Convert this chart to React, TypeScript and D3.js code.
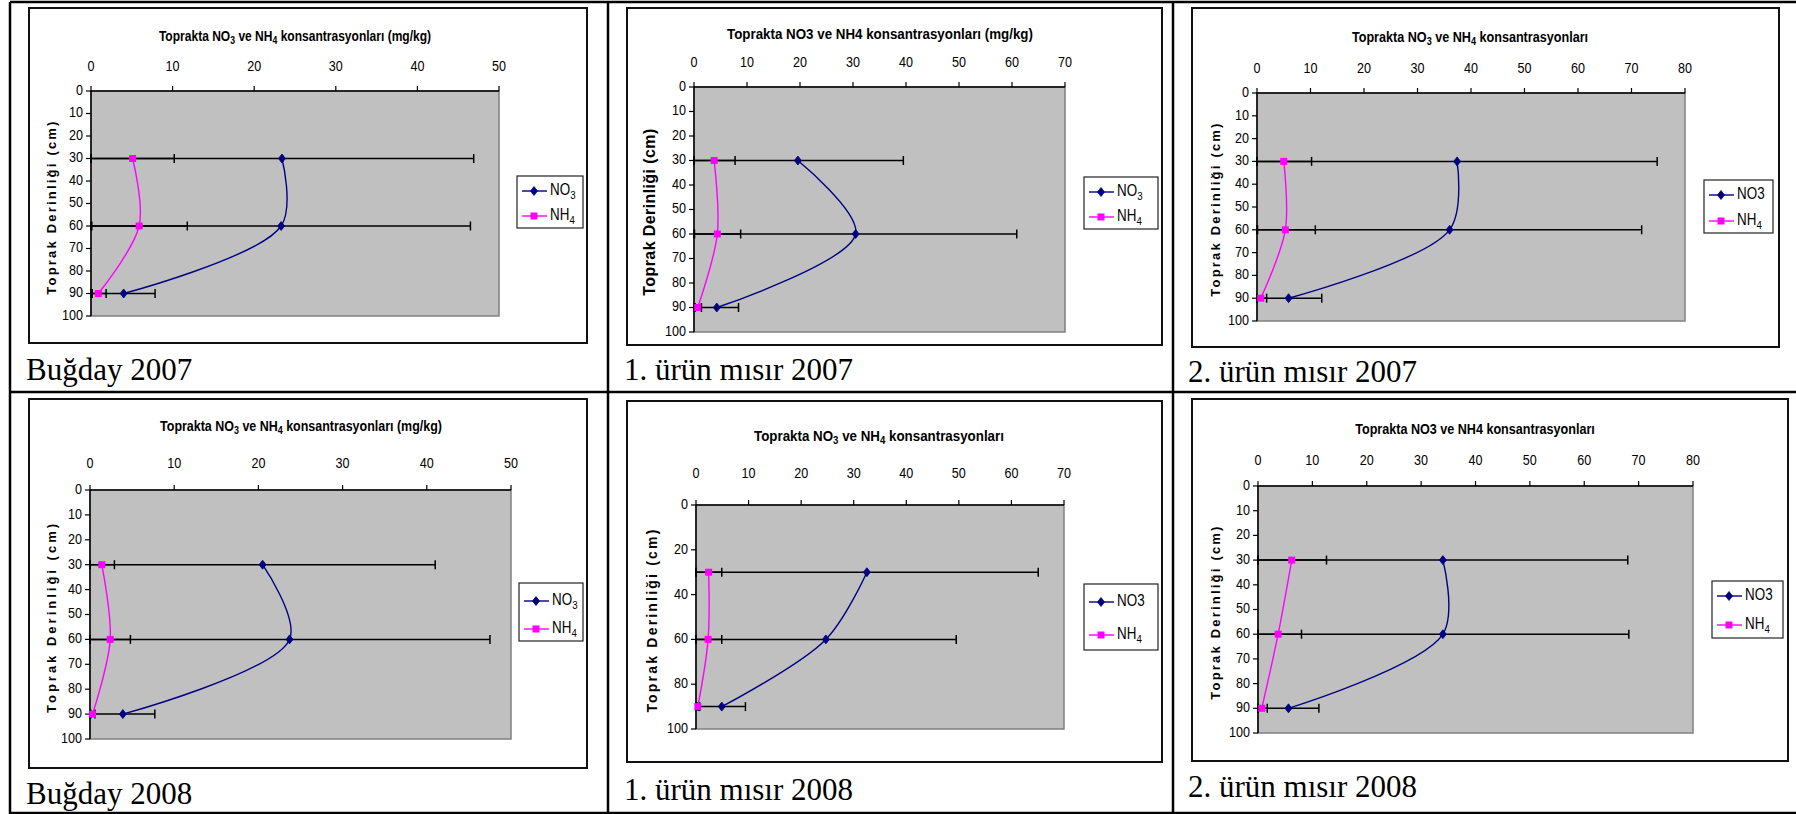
import React from 'react';
import * as d3 from 'd3';

// depth levels (cm) shared by all six profiles
const depths = [30, 60, 90];

// NO3 / NH4 means and error (mg/kg), one pair of arrays per crop-year
const no3Bugday2007 = [23.4, 23.3, 4.0];
const no3ErrBugday2007 = [23.5, 23.2, 3.85];
const nh4Bugday2007 = [5.1, 5.9, 0.9];
const nh4ErrBugday2007 = [5.1, 5.9, 0.95];

const no3Misir1_2007 = [19.6, 30.5, 4.3];
const no3ErrMisir1_2007 = [19.9, 30.4, 4.1];
const nh4Misir1_2007 = [3.8, 4.4, 0.7];
const nh4ErrMisir1_2007 = [3.95, 4.4, 0.7];

const no3Misir2_2007 = [37.4, 36.0, 5.9];
const no3ErrMisir2_2007 = [37.4, 35.9, 6.2];
const nh4Misir2_2007 = [5.0, 5.3, 0.7];
const nh4ErrMisir2_2007 = [5.2, 5.6, 1.1];

const no3Bugday2008 = [20.5, 23.7, 3.9];
const no3ErrBugday2008 = [20.5, 23.8, 3.8];
const nh4Bugday2008 = [1.4, 2.4, 0.3];
const nh4ErrBugday2008 = [1.5, 2.4, 0.3];

const no3Misir1_2008 = [32.5, 24.7, 4.9];
const no3ErrMisir1_2008 = [32.6, 24.8, 4.5];
const nh4Misir1_2008 = [2.4, 2.3, 0.35];
const nh4ErrMisir1_2008 = [2.5, 2.6, 0.35];

const no3Misir2_2008 = [34.0, 34.0, 5.6];
const no3ErrMisir2_2008 = [34.0, 34.2, 5.6];
const nh4Misir2_2008 = [6.2, 3.7, 0.7];
const nh4ErrMisir2_2008 = [6.4, 4.3, 1.0];

// texts ("_3" marks a subscript)
const captions = ['Buğday 2007', '1. ürün mısır 2007', '2. ürün mısır 2007', 'Buğday 2008', '1. ürün mısır 2008', '2. ürün mısır 2008'];
const titles = [
  'Toprakta NO_3 ve NH_4 konsantrasyonları (mg/kg)',
  'Toprakta NO3 ve NH4 konsantrasyonları (mg/kg)',
  'Toprakta NO_3 ve NH_4 konsantrasyonları',
  'Toprakta NO_3 ve NH_4 konsantrasyonları (mg/kg)',
  'Toprakta NO_3 ve NH_4 konsantrasyonları',
  'Toprakta NO3 ve NH4 konsantrasyonları',
];
const no3Legend = ['NO_3', 'NO_3', 'NO3', 'NO_3', 'NO3', 'NO3'];
const nh4Legend = 'NH_4';
const yTitle = 'Toprak Derinliği (cm)';
const xMaxes = [50, 70, 80, 50, 70, 80];
const yStepSizes = [10, 10, 10, 10, 20, 10];

const FONT = '"Liberation Sans", Arial, sans-serif';
const SERIF = '"Liberation Serif", "Times New Roman", serif';
const NAVY = '#000080';
const MAGENTA = '#FF00FF';
const NARROW = 0.84; // squeeze to look like Arial Narrow

// page layout of each panel (box, plot, title, legend, caption)
const layouts = [
  { box: [29, 8, 587, 343], plot: [91, 91, 499, 316], title: [295, 38, 14, 0.86], xLabY: 67, yt: [53, 207, 13, 2.2], leg: [517, 176, 583, 228, 191, 216], cap: [26, 380] },
  { box: [627, 8, 1162, 345], plot: [694, 87, 1065, 332], title: [880, 35, 15, 0.89], xLabY: 63, yt: [651, 212, 16, 0.4], leg: [1084, 177, 1158, 229, 192, 217], cap: [624, 380] },
  { box: [1192, 8, 1779, 347], plot: [1257, 93, 1685, 321], title: [1470, 38, 14.5, 0.87], xLabY: 69, yt: [1217, 209, 13, 2.2], leg: [1704, 180, 1773, 233, 195, 221], cap: [1188, 382] },
  { box: [29, 399, 587, 768], plot: [90, 490, 511, 739], title: [301, 427, 14, 0.89], xLabY: 464, yt: [53, 617, 13, 3], leg: [519, 583, 583, 641, 601, 629], cap: [26, 804] },
  { box: [627, 401, 1162, 762], plot: [696, 505, 1064, 729], title: [879, 437, 15, 0.89], xLabY: 474, yt: [653, 620, 14, 2.2], leg: [1084, 584, 1158, 650, 602, 635], cap: [624, 800] },
  { box: [1192, 399, 1788, 761], plot: [1258, 486, 1693, 733], title: [1475, 430, 14, 0.9], xLabY: 461, yt: [1217, 612, 13, 2.2], leg: [1712, 581, 1783, 638, 596, 625], cap: [1188, 797] },
];

const series = [
  [no3Bugday2007, no3ErrBugday2007, nh4Bugday2007, nh4ErrBugday2007],
  [no3Misir1_2007, no3ErrMisir1_2007, nh4Misir1_2007, nh4ErrMisir1_2007],
  [no3Misir2_2007, no3ErrMisir2_2007, nh4Misir2_2007, nh4ErrMisir2_2007],
  [no3Bugday2008, no3ErrBugday2008, nh4Bugday2008, nh4ErrBugday2008],
  [no3Misir1_2008, no3ErrMisir1_2008, nh4Misir1_2008, nh4ErrMisir1_2008],
  [no3Misir2_2008, no3ErrMisir2_2008, nh4Misir2_2008, nh4ErrMisir2_2008],
];

// turn "NO_3" into tspans with a lowered digit
function subText(str: string, size: number) {
  const parts = str.split(/_(\d)/);
  const out: any[] = [];
  const dy = size * 0.28;
  parts.forEach((p, i) => {
    if (i % 2 === 1) {
      out.push(<tspan key={i} dy={dy} fontSize={size * 0.72}>{p}</tspan>);
    } else if (p) {
      out.push(<tspan key={i} dy={i > 0 ? -dy : 0}>{p}</tspan>);
    }
  });
  return out;
}

// text squeezed horizontally around its anchor point
function NText({ x, y, sx = NARROW, size, anchor = 'start', bold = false, children }: any) {
  return (
    <text
      transform={`translate(${x},${y}) scale(${sx},1)`}
      textAnchor={anchor}
      dominantBaseline="middle"
      fontFamily={FONT}
      fontWeight={bold ? 'bold' : 'normal'}
      fontSize={size}
      fill="#000"
    >
      {children}
    </text>
  );
}

function Diamond({ x, y }: { x: number; y: number }) {
  return <path d={`M${x},${y - 4.5} L${x + 3.5},${y} L${x},${y + 4.5} L${x - 3.5},${y} Z`} fill={NAVY} stroke={NAVY} strokeWidth={0.8} />;
}
function Square({ x, y }: { x: number; y: number }) {
  return <rect x={x - 3.5} y={y - 3.5} width={7} height={7} fill={MAGENTA} />;
}

function Panel({ idx }: { idx: number }) {
  const L = layouts[idx];
  const [no3, no3Err, nh4, nh4Err] = series[idx];
  const [px0, py0, px1, py1] = L.plot;
  const x = d3.scaleLinear().domain([0, xMaxes[idx]]).range([px0, px1]);
  const y = d3.scaleLinear().domain([0, 100]).range([py0, py1]);
  const xTicks = d3.range(0, xMaxes[idx] + 1, 10);
  const yTicks = d3.range(0, 101, yStepSizes[idx]);
  const line = d3.line<number>().x((v) => x(v)).y((_, i) => y(depths[i])).curve(d3.curveCatmullRom);

  const errBars = (vals: number[], errs: number[], key: string) =>
    vals.map((v, i) => {
      const lo = x(Math.max(0, v - errs[i]));
      const hi = x(Math.min(xMaxes[idx], v + errs[i]));
      const yy = y(depths[i]);
      return (
        <g key={key + i} stroke="#000" strokeWidth={1.5}>
          <line x1={lo} x2={hi} y1={yy} y2={yy} />
          <line x1={lo} x2={lo} y1={yy - 4.5} y2={yy + 4.5} />
          <line x1={hi} x2={hi} y1={yy - 4.5} y2={yy + 4.5} />
        </g>
      );
    });

  const [bx0, by0, bx1, by1] = L.box;
  const [lx0, ly0, lx1, ly1, e1, e2] = L.leg;
  const [tx, ty, tfs, tsx] = L.title;
  const [yx, yy, yfs, yls] = L.yt;

  return (
    <g>
      <rect x={bx0} y={by0} width={bx1 - bx0} height={by1 - by0} fill="#fff" stroke="#111" strokeWidth={2} />
      <NText x={tx} y={ty} sx={tsx} size={tfs} anchor="middle" bold>
        {subText(titles[idx], tfs)}
      </NText>
      <rect x={px0} y={py0} width={px1 - px0} height={py1 - py0} fill="#C0C0C0" stroke="#808080" strokeWidth={1.5} />
      {/* axes */}
      <line x1={px0} x2={px1} y1={py0} y2={py0} stroke="#000" strokeWidth={1.5} />
      <line x1={px0} x2={px0} y1={py0} y2={py1} stroke="#000" strokeWidth={1.5} />
      {xTicks.map((t) => (
        <g key={'xt' + t}>
          <line x1={x(t)} x2={x(t)} y1={py0 - 5} y2={py0} stroke="#000" strokeWidth={1.2} />
          <NText x={x(t)} y={L.xLabY} size={15} anchor="middle">{t}</NText>
        </g>
      ))}
      {yTicks.map((t) => (
        <g key={'yt' + t}>
          <line x1={px0 - 5} x2={px0} y1={y(t)} y2={y(t)} stroke="#000" strokeWidth={1.2} />
          <NText x={px0 - 8} y={y(t)} size={15} anchor="end">{t}</NText>
        </g>
      ))}
      <text transform={`translate(${yx},${yy}) rotate(-90)`} textAnchor="middle" dominantBaseline="middle" fontFamily={FONT} fontWeight="bold" fontSize={yfs} letterSpacing={yls} fill="#000">
        {yTitle}
      </text>
      {errBars(nh4, nh4Err, 'enh')}
      {errBars(no3, no3Err, 'eno')}
      <path d={line(no3) || ''} fill="none" stroke={NAVY} strokeWidth={1.4} />
      <path d={line(nh4) || ''} fill="none" stroke={MAGENTA} strokeWidth={1.4} />
      {no3.map((v, i) => <Diamond key={'d' + i} x={x(v)} y={y(depths[i])} />)}
      {nh4.map((v, i) => <Square key={'s' + i} x={x(v)} y={y(depths[i])} />)}
      {/* legend */}
      <rect x={lx0} y={ly0} width={lx1 - lx0} height={ly1 - ly0} fill="#fff" stroke="#222" strokeWidth={1.2} />
      <line x1={lx0 + 5} x2={lx0 + 30} y1={e1} y2={e1} stroke={NAVY} strokeWidth={1.4} />
      <Diamond x={lx0 + 17} y={e1} />
      <NText x={lx0 + 33} y={e1} size={16}>{subText(no3Legend[idx], 16)}</NText>
      <line x1={lx0 + 5} x2={lx0 + 30} y1={e2} y2={e2} stroke={MAGENTA} strokeWidth={1.4} />
      <Square x={lx0 + 17} y={e2} />
      <NText x={lx0 + 33} y={e2} size={16}>{subText(nh4Legend, 16)}</NText>
      <text x={L.cap[0]} y={L.cap[1]} fontFamily={SERIF} fontSize={31} fill="#000">{captions[idx]}</text>
    </g>
  );
}

export default function App() {
  return (
    <svg width={1796} height={814} style={{ position: 'absolute', left: 0, top: 0, background: '#fff' }}>
      {/* table grid */}
      <g stroke="#000" strokeWidth={2.5}>
        <line x1={10} x2={1796} y1={2} y2={2} />
        <line x1={10} x2={1796} y1={392} y2={392} />
        <line x1={10} x2={1796} y1={813} y2={813} />
        <line x1={10} x2={10} y1={2} y2={814} />
        <line x1={608} x2={608} y1={2} y2={814} />
        <line x1={1173} x2={1173} y1={2} y2={814} />
      </g>
      {layouts.map((_, i) => <Panel key={i} idx={i} />)}
    </svg>
  );
}
